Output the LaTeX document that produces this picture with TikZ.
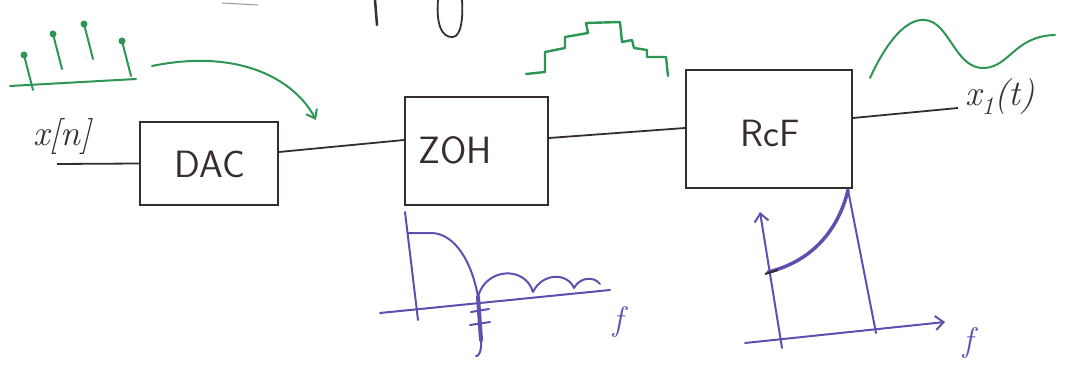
\documentclass[tikz,border=0pt]{standalone}
\usetikzlibrary{arrows.meta}
\definecolor{ink}{RGB}{55,45,45}
\definecolor{grn}{RGB}{45,150,85}
\definecolor{pur}{RGB}{95,80,175}
\tikzset{
  blk/.style={draw=ink, line width=1.8pt, minimum width=#1, inner sep=0pt},
  lbl/.style={text=ink, font=\sffamily\fontsize{38}{42}\selectfont},
  wire/.style={draw=ink, line width=1.8pt},
  gline/.style={draw=grn, line width=2pt, line join=round, line cap=round},
  pline/.style={draw=pur, line width=2pt, line join=round, line cap=round},
  itl/.style={font=\itshape\fontsize{#1}{#1}\selectfont, inner sep=1pt},
}
\begin{document}
\begin{tikzpicture}[x=1pt,y=-1pt]
\useasboundingbox (0,0) rectangle (1086,377);
% top fragments
\draw[ink!50, line width=1pt] (222,3) -- (258,5);
\draw[ink, line width=2.5pt, line cap=round] (375,0) -- (377,25);
\draw[ink, line width=1.8pt] (438,0) .. controls (436,25) and (442,38) .. (453,37) .. controls (462,36) and (463,15) .. (462,0);
% boxes
\node[blk=138pt, minimum height=83pt] (dac) at (209,163.5) {};
\node[blk=143pt, minimum height=108pt] (zoh) at (476.5,151) {};
\node[blk=166pt, minimum height=118pt] (rcf) at (769,129) {};
\node[lbl] (tdac) at (210,164) {DAC};
\node[lbl] (tzoh) at (455,150) {ZOH};
\node[lbl] (trcf) at (770,133) {RcF};
% input / output
\node[text=ink, itl=36] (xn) at (62,136) {x[n]};
\coordinate (in) at (57,164);
\coordinate (out) at (958,108);
\node[text=ink, itl=36, anchor=west] (x1) at (964,97) {x\textsubscript{1}(t)};
\draw[wire] (in) -- (dac.west);
\draw[wire] (dac.east |- 0,152) -- (zoh.west |- 0,140);
\draw[wire] (zoh.east |- 0,138) -- (rcf.west |- 0,128);
\draw[wire] (rcf.east |- 0,118) -- (out);
% green stems
\draw[gline] (10,86) -- (136,79);
\foreach \a/\b in {24/55, 53/34, 84/24, 122/41}{
  \draw[gline] (\a,\b) -- ++(9,35);
  \fill[grn] (\a,\b) circle (3.5pt);
}
\draw[gline, -{Straight Barb[length=8pt,width=12pt]}] (152,66) .. controls (240,48) and (295,80) .. (316,120);
% staircase
\draw[gline, line width=2.4pt] (526,74) -- (545,72) -- (545,52) -- (565,48) -- (565,37) -- (588,33) -- (586,23) -- (620,22) -- (622,42) -- (632,40) -- (634,48) -- (647,50) -- (647,57) -- (666,57) -- (668,76);
% green sine
\draw[gline] (870,78) .. controls (885,45) and (905,18) .. (925,20) .. controls (950,22) and (955,70) .. (985,68) .. controls (1010,66) and (1015,36) .. (1055,35);
% ZOH spectrum
\draw[pline] (405,212) -- (418,320);
\draw[pline] (380,313) -- (610,290);
\draw[pline] (408,233) -- (432,233) .. controls (455,234) and (472,262) .. (478,297)
  .. controls (485,268) and (525,265) .. (533,292)
  .. controls (542,273) and (567,272) .. (574,288)
  .. controls (580,277) and (594,276) .. (600,284);
\draw[pur, line width=4pt, line cap=round] (478,297) -- (481,340);
\draw[pline] (471,312) -- (489,309);
\draw[pline] (470,325) -- (490,322);
\draw[pline] (481,340) .. controls (482,352) and (478,357) .. (476,356);
\node[text=pur, itl=34] (fa) at (618,322) {f};
% RCF spectrum
\draw[pline, -{Straight Barb[length=8pt,width=14pt]}] (782,348) -- (760,212);
\draw[pline, -{Straight Barb[length=8pt,width=14pt]}] (745,343) -- (945,322);
\draw[pur, line width=3.5pt, line cap=round] (768,272) .. controls (810,262) and (838,232) .. (848,190);
\draw[pline] (848,190) -- (876,333);
\draw[ink, line width=2pt] (765,274) -- (778,270);
\node[text=pur, itl=34] (fb) at (968,343) {f};
\end{tikzpicture}
\end{document}
